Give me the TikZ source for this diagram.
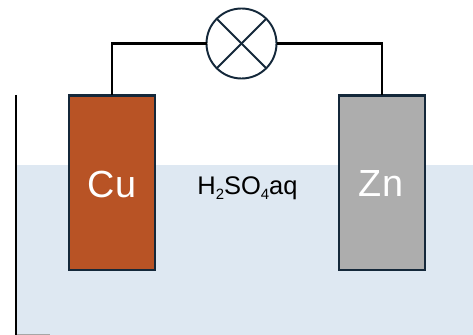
\documentclass[tikz,border=0pt]{standalone}
\usepackage{fontspec}
\usepackage{xcolor}
\setmainfont{Liberation Sans}
\definecolor{waterblue}{HTML}{DEE8F2}
\definecolor{copperred}{HTML}{B85325}
\definecolor{zincgray}{HTML}{ADADAD}
\definecolor{edgedark}{HTML}{14283A}
\newcommand{\acidsub}[1]{\raisebox{-0.35ex}{\fontsize{8.5}{10}\selectfont #1}}
\tikzset{
  electrode/.style={draw=edgedark, line width=1.2pt, minimum width=1.73cm, minimum height=3.49cm, outer sep=0pt},
  metal/.style={text=white, anchor=base, font=\fontsize{21.5}{24}\selectfont},
  wire/.style={black, line width=1.3pt},
  lampline/.style={draw=edgedark, line width=1.1pt}
}
\begin{document}
\begin{tikzpicture}
  \useasboundingbox (0,0) rectangle (9.46,6.7);

  % Electrolyte
  \fill[waterblue] (0.32,0) rectangle (9.46,3.4);
  \draw[gray!70, line width=0.5pt] (0.32,0.02) -- (1,0.02);

  % Beaker wall
  \coordinate (walltop) at (0.32,4.8);
  \coordinate (wallbot) at (0.32,0);
  \draw[black, line width=1.2pt] (walltop) -- (wallbot);

  % Electrodes
  \node[electrode, fill=copperred] (cu) at (2.24,3.045) {};
  \node[electrode, fill=zincgray] (zn) at (7.64,3.045) {};
  \node[metal] (culabel) at (2.24,2.74) {Cu};
  \node[metal] (znlabel) at (7.62,2.76) {Zn};

  % Lamp
  \node[circle, lampline, fill=white, minimum size=1.4cm, inner sep=0pt, outer sep=0pt] (lamp) at (4.83,5.83) {};
  \draw[lampline] (lamp.north west) -- (lamp.south east);
  \draw[lampline] (lamp.south west) -- (lamp.north east);

  % Wires
  \draw[wire] (lamp.west) -| (cu.north);
  \draw[wire] (lamp.east) -| (zn.north);

  % Electrolyte label
  \node[font=\fontsize{14.5}{17}\selectfont, anchor=base, inner sep=0pt] (acid) at (4.95,2.8) {H\acidsub{2}SO\acidsub{4}aq};
\end{tikzpicture}
\end{document}
